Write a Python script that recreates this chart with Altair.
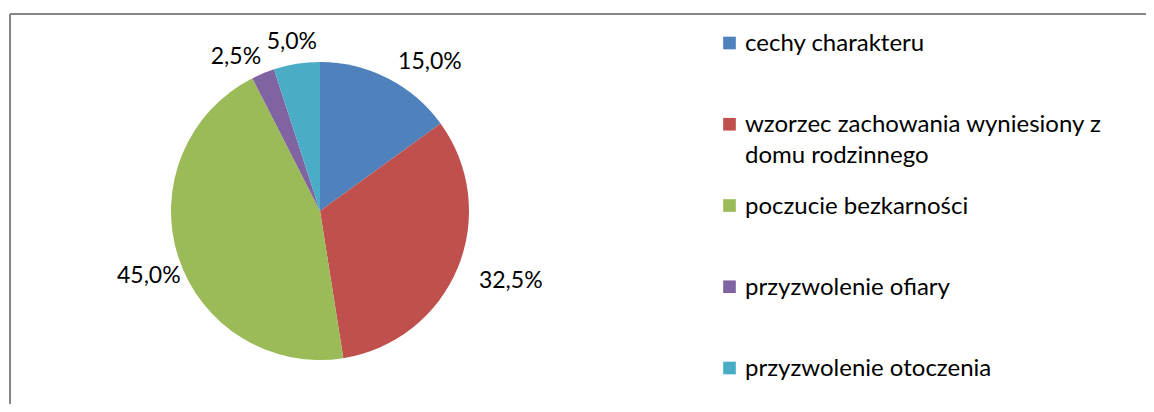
import altair as alt
import pandas as pd

categories = [
    "cechy charakteru",
    "wzorzec zachowania wyniesiony z domu rodzinnego",
    "poczucie bezkarności",
    "przyzwolenie ofiary",
    "przyzwolenie otoczenia",
]
legend_labels = [
    "cechy charakteru",
    "wzorzec zachowania wyniesiony z\ndomu rodzinnego",
    "poczucie bezkarności",
    "przyzwolenie ofiary",
    "przyzwolenie otoczenia",
]
values = [15.0, 32.5, 45.0, 2.5, 5.0]
pct_labels = ["15,0%", "32,5%", "45,0%", "2,5%", "5,0%"]
colors = ["#4F81BD", "#C0504D", "#9BBB59", "#8064A2", "#4BACC6"]

df = pd.DataFrame({
    "category": categories,
    "legend": legend_labels,
    "value": values,
    "label": pct_labels,
    "order": list(range(len(categories))),
})

FONT = "Lato"
CX, CY = 312, 203

color = alt.Color("category:N", scale=alt.Scale(domain=categories, range=colors), legend=None)
theta = alt.Theta("value:Q", stack=True)
order = alt.Order("order:Q")
base = alt.Chart(df)

pie = base.mark_arc(outerRadius=149).encode(
    theta=theta, color=color, order=order, x=alt.value(CX), y=alt.value(CY)
)

# mid-angle fraction of each slice, used to pick label placement side
lab_base = base.transform_window(
    cum="sum(value)", sort=[alt.SortField("order")]
).transform_joinaggregate(
    total="sum(value)"
).transform_calculate(
    mid="(datum.cum - datum.value / 2) / datum.total"
)

def label_layer(cond, **kw):
    return lab_base.mark_text(fontSize=23, font=FONT, color="#000000", **kw).encode(
        theta=theta, order=order,
        text=alt.condition(cond, "label:N", alt.value("")),
        x=alt.value(CX), y=alt.value(CY),
    )

lab_right = label_layer("datum.mid < 0.5", radius=172, align="left", dy=4)
lab_left = label_layer("datum.mid >= 0.5 && datum.value >= 3", radius=180, align="center", dy=9)
lab_small = label_layer("datum.mid >= 0.5 && datum.value < 3", radius=180, align="right", dx=10, dy=12)

ypos = alt.Y(
    "category:N",
    sort=categories,
    scale=alt.Scale(type="point", range=[35, 360], padding=0),
    axis=None,
)

leg_sq = base.mark_square(size=160, opacity=1).encode(
    x=alt.value(721.5), y=ypos, color=color
)
leg_tx = base.mark_text(
    align="left", baseline="alphabetic", dy=8, fontSize=24, font=FONT,
    lineBreak="\n", lineHeight=31, color="#000000"
).encode(x=alt.value(737), y=ypos, text="legend:N")

one = alt.Chart(pd.DataFrame({"a": [0]}))
frame_top = one.mark_rule(color="#868686", strokeWidth=2).encode(
    x=alt.value(2), x2=alt.value(1138), y=alt.value(6)
)
frame_left = one.mark_rule(color="#868686", strokeWidth=2).encode(
    x=alt.value(2), y=alt.value(6), y2=alt.value(396)
)

chart = alt.layer(
    frame_top, frame_left, pie, lab_right, lab_left, lab_small, leg_sq, leg_tx
).properties(
    width=1138, height=396, padding=0, autosize=alt.AutoSizeParams(type="none")
).configure_view(strokeWidth=0)

chart.save("out.html", embed_options={"renderer": "svg", "actions": False})
